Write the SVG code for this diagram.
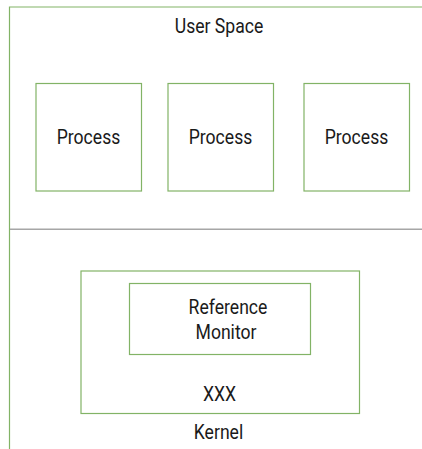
<svg xmlns="http://www.w3.org/2000/svg" width="422" height="449" viewBox="0 0 422 449">
<style>
.box{fill:#ffffff;stroke:#82b366;stroke-width:1.2}
.frame{fill:none;stroke:#82b366;stroke-width:1.2}
.div{stroke:#a6a6a6;stroke-width:1.5}
text{font-family:Roboto,"Liberation Sans",sans-serif;font-size:20px;fill:#1a1a1a;text-anchor:middle}
</style>
<rect width="422" height="449" fill="#ffffff"/>
<g id="user-space">
<path class="frame" d="M422,7 H9.5 V449"/>
<text transform="translate(219,33) scale(0.88,1)">User Space</text>
</g>
<g id="connectors">
<line class="div" x1="10" y1="229.3" x2="422" y2="229.3"/>
</g>
<g id="process1">
<rect class="box" x="36" y="83.5" width="105.5" height="107.5"/>
<text transform="translate(88.5,143.5) scale(0.88,1)">Process</text>
</g>
<g id="process2">
<rect class="box" x="168" y="83.5" width="105.5" height="107.5"/>
<text transform="translate(220.5,143.5) scale(0.88,1)">Process</text>
</g>
<g id="process3">
<rect class="box" x="304" y="83.5" width="105.5" height="107.5"/>
<text transform="translate(356.5,143.5) scale(0.88,1)">Process</text>
</g>
<g id="kernel">
<rect class="box" x="81" y="271" width="278.5" height="142.5"/>
<text transform="translate(219.5,400.5) scale(0.88,1)">XXX</text>
<text transform="translate(218.5,439) scale(0.88,1)">Kernel</text>
</g>
<g id="reference-monitor">
<rect class="box" x="129.5" y="283.5" width="181" height="71"/>
<text transform="translate(228,313.5) scale(0.88,1)">Reference</text>
<text transform="translate(226,338.5) scale(0.88,1)">Monitor</text>
</g>
</svg>
